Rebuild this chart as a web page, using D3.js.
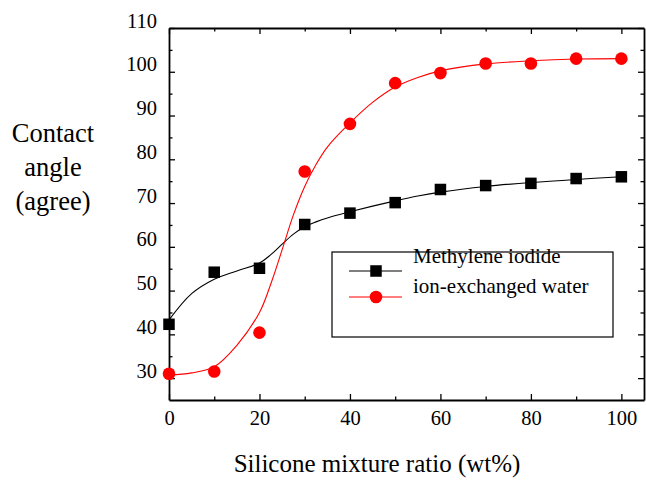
<!DOCTYPE html>
<html>
<head>
<meta charset="utf-8">
<script src="https://cdn.jsdelivr.net/npm/d3@7"></script>
<style>
  html, body { margin: 0; padding: 0; background: #fff; }
  svg { display: block; font-family: "Liberation Serif", "Times New Roman", serif; }
</style>
</head>
<body>
<svg id="chart" width="646" height="491"></svg>
<script>
// ---- data ----
const ratio = [0, 10, 20, 30, 40, 50, 60, 70, 80, 90, 100];
const methylene = [42.3, 54.2, 55.1, 65.1, 67.7, 70.1, 73.1, 74.0, 74.5, 75.6, 76.0];
const water = [31.0, 31.5, 40.4, 77.2, 88.1, 97.4, 99.7, 101.9, 101.9, 103.0, 103.0];

// fitted curves as drawn in the reference
const fitX =         [0,    5,    10,   15,   20,   22.5, 25,   27.5, 30,   32.5, 35,   40,   45,   50,   55,   60,    70,    80,    90,    100];
const methyleneFit = [43.3, 49.3, 52.6, 54.5, 56.3, 58.2, 60.6, 62.9, 64.6, 65.7, 66.6, 68.0, 69.3, 70.5, 71.6, 72.5,  73.8,  74.7,  75.4,  76.0];
const waterFit =     [30.7, 31.2, 32.6, 37.5, 45.0, 51.5, 59.3, 67.3, 73.8, 78.8, 82.8, 88.3, 93.0, 96.5, 98.7, 100.2, 101.8, 102.5, 102.9, 103.0];

const xTicks = [0, 20, 40, 60, 80, 100];
const xMinor = [10, 30, 50, 70, 90];
const yTicks = [30, 40, 50, 60, 70, 80, 90, 100, 110];
const yMinor = [35, 45, 55, 65, 75, 85, 95, 105];

const seriesNames = ["Methylene iodide", "ion-exchanged water"];
const xTitle = "Silicone mixture ratio (wt%)";
const yTitleLines = ["Contact", "angle", "(agree)"];

// ---- layout ----
const W = 646, H = 491;
const margin = { left: 169, right: 2, top: 28, bottom: 91 };
const svg = d3.select("#chart");
const g = svg.append("g").attr("transform", `translate(${margin.left},${margin.top})`);
const iw = W - margin.left - margin.right;
const ih = H - margin.top - margin.bottom;

const x = d3.scaleLinear().domain([0, 105]).range([0, iw]);
const y = d3.scaleLinear().domain([25, 110]).range([ih, 0]);

const axisStyle = sel => {
  sel.select(".domain").attr("stroke", "#000").attr("stroke-width", 1.8);
  sel.selectAll(".tick line").attr("stroke", "#000").attr("stroke-width", 1.3);
};
const minorStyle = s => {
  s.select(".domain").remove();
  s.selectAll(".tick line").attr("stroke", "#000").attr("stroke-width", 1.3);
};

// bottom
const gx = g.append("g").attr("transform", `translate(0,${ih})`)
  .call(d3.axisBottom(x).tickValues(xTicks).tickSize(-6).tickSizeOuter(0).tickFormat(d3.format("d")));
axisStyle(gx);
gx.selectAll(".tick text").attr("y", 25).attr("dy", 0).attr("font-size", 20.5)
  .attr("font-family", "Liberation Serif").attr("fill", "#000");
g.append("g").attr("transform", `translate(0,${ih})`)
  .call(d3.axisBottom(x).tickValues(xMinor).tickSize(-3.5).tickSizeOuter(0).tickFormat(""))
  .call(minorStyle);

// top
const gt = g.append("g")
  .call(d3.axisTop(x).tickValues(xTicks).tickSize(-6).tickSizeOuter(0).tickFormat(""));
axisStyle(gt);
g.append("g")
  .call(d3.axisTop(x).tickValues(xMinor).tickSize(-3.5).tickSizeOuter(0).tickFormat(""))
  .call(minorStyle);

// left
const gy = g.append("g")
  .call(d3.axisLeft(y).tickValues(yTicks).tickSize(-6).tickSizeOuter(0).tickPadding(12).tickFormat(d3.format("d")));
axisStyle(gy);
gy.selectAll(".tick text").attr("y", -1).attr("dy", 0).attr("font-size", 20.5)
  .attr("font-family", "Liberation Serif").attr("fill", "#000");
g.append("g")
  .call(d3.axisLeft(y).tickValues(yMinor).tickSize(-3.5).tickSizeOuter(0).tickFormat(""))
  .call(minorStyle);

// right
const gr = g.append("g").attr("transform", `translate(${iw},0)`)
  .call(d3.axisRight(y).tickValues(yTicks).tickSize(-6).tickSizeOuter(0).tickFormat(""));
axisStyle(gr);
g.append("g").attr("transform", `translate(${iw},0)`)
  .call(d3.axisRight(y).tickValues(yMinor).tickSize(-3.5).tickSizeOuter(0).tickFormat(""))
  .call(minorStyle);

// ---- fitted curves ----
const line = d3.line().x(d => x(d[0])).y(d => y(d[1])).curve(d3.curveCatmullRom.alpha(0.5));
g.append("path").datum(fitX.map((v, i) => [v, methyleneFit[i]]))
  .attr("d", line).attr("fill", "none").attr("stroke", "#000").attr("stroke-width", 1.1);
g.append("path").datum(fitX.map((v, i) => [v, waterFit[i]]))
  .attr("d", line).attr("fill", "none").attr("stroke", "#ff0000").attr("stroke-width", 1.1);

// ---- markers ----
const sq = 11.5;
g.selectAll("rect.m").data(ratio.map((v, i) => [v, methylene[i]])).enter()
  .append("rect").attr("class", "m")
  .attr("x", d => x(d[0]) - sq / 2).attr("y", d => y(d[1]) - sq / 2)
  .attr("width", sq).attr("height", sq).attr("fill", "#000");
g.selectAll("circle.w").data(ratio.map((v, i) => [v, water[i]])).enter()
  .append("circle").attr("class", "w")
  .attr("cx", d => x(d[0])).attr("cy", d => y(d[1])).attr("r", 6.3).attr("fill", "#ff0000");

// ---- legend ----
const lg = svg.append("g").attr("transform", "translate(332,252)");
lg.append("rect").attr("x", 0).attr("y", 0).attr("width", 281).attr("height", 85)
  .attr("fill", "#fff").attr("stroke", "#000").attr("stroke-width", 1.2);
// entry 1
lg.append("line").attr("x1", 17).attr("x2", 70).attr("y1", 19).attr("y2", 19).attr("stroke", "#000").attr("stroke-width", 1.1);
lg.append("rect").attr("x", 44 - sq / 2).attr("y", 19 - sq / 2).attr("width", sq).attr("height", sq).attr("fill", "#000");
lg.append("text").attr("x", 81).attr("y", 11).attr("font-size", 21).attr("fill", "#000").text(seriesNames[0]);
// entry 2
lg.append("line").attr("x1", 17).attr("x2", 70).attr("y1", 45).attr("y2", 45).attr("stroke", "#ff0000").attr("stroke-width", 1.1);
lg.append("circle").attr("cx", 44).attr("cy", 45).attr("r", 6.3).attr("fill", "#ff0000");
lg.append("text").attr("x", 81).attr("y", 41).attr("font-size", 21).attr("fill", "#000").text(seriesNames[1]);

// ---- titles ----
svg.append("text").attr("x", 377).attr("y", 472).attr("text-anchor", "middle")
  .attr("font-size", 25).attr("fill", "#000").text(xTitle);
const yt = svg.append("text").attr("text-anchor", "middle").attr("font-size", 26.5).attr("fill", "#000");
yTitleLines.forEach((t, i) => {
  yt.append("tspan").attr("x", 53).attr("y", 142 + i * 34).text(t);
});
</script>
</body>
</html>
